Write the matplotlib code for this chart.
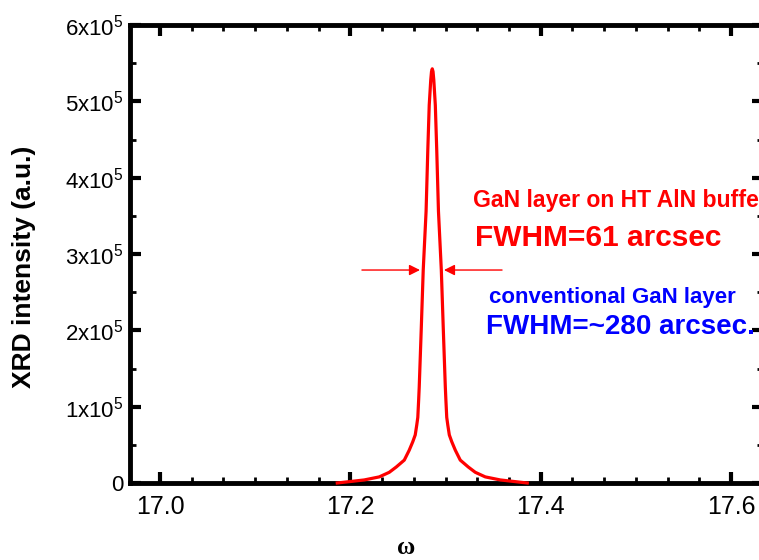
import matplotlib
matplotlib.use("Agg")
import matplotlib.pyplot as plt
from matplotlib.ticker import MultipleLocator, FuncFormatter

plt.rcParams["font.family"] = ["Liberation Sans", "DejaVu Sans"]

# rocking curve (omega in deg, intensity in 1e5 counts)
omega = [17.1863, 17.2146, 17.2304, 17.2409, 17.2483, 17.2567, 17.2619, 17.2656,
         17.2682, 17.2698, 17.2709, 17.2718, 17.2724, 17.2745, 17.2766, 17.2796,
         17.2814, 17.2829, 17.2845, 17.2853,
         17.2861,
         17.2869, 17.2877, 17.2893, 17.2908, 17.2926, 17.2956, 17.2977, 17.2998,
         17.3004, 17.3013, 17.3024, 17.3040, 17.3066, 17.3103, 17.3155, 17.3239,
         17.3313, 17.3418, 17.3576, 17.3859]
intensity = [0.00, 0.04, 0.08, 0.14, 0.21, 0.30, 0.43, 0.54,
             0.63, 0.76, 0.86, 1.09, 1.26, 2.01, 2.79, 3.56,
             4.36, 4.95, 5.28, 5.39,
             5.426,
             5.39, 5.28, 4.95, 4.36, 3.56, 2.79, 2.01, 1.26,
             1.09, 0.86, 0.76, 0.63, 0.54, 0.43, 0.30, 0.21,
             0.14, 0.08, 0.04, 0.00]

# FWHM arrows: (tail x, head x) at half maximum
arrow_y = 2.79
arrow_left = (17.2122, 17.2732)
arrow_right = (17.3594, 17.2984)

x_ticks = [17.0, 17.2, 17.4, 17.6]
y_ticks = [0, 1, 2, 3, 4, 5, 6]

W, H = 759, 560

fig = plt.figure(figsize=(W / 100, H / 100), dpi=100)
ax = fig.add_axes([130 / W, 1 - 483 / H, 633 / W, 458 / H])

ax.plot(omega, [v * 1e5 for v in intensity], color="#ff0000", lw=2.3,
        solid_joinstyle="round", zorder=3, clip_on=False)

for tail, head in (arrow_left, arrow_right):
    ax.annotate("", xy=(head, arrow_y * 1e5), xytext=(tail, arrow_y * 1e5),
                arrowprops=dict(arrowstyle="-|>", color="#ff0000", lw=1.0,
                                mutation_scale=16, shrinkA=0, shrinkB=0))

ax.set_xlim(16.9685, 17.6336)
ax.set_ylim(0, 6e5)
ax.set_xticks(x_ticks)
ax.set_yticks([v * 1e5 for v in y_ticks])
ax.xaxis.set_minor_locator(MultipleLocator(0.2 / 6))
ax.yaxis.set_minor_locator(MultipleLocator(0.5e5))
ax.xaxis.set_major_formatter(FuncFormatter(lambda v, p: f"{v:.1f}"))
ax.yaxis.set_major_formatter(FuncFormatter(
    lambda v, p: "0" if v == 0 else r"$\mathregular{%dx10^5}$" % round(v / 1e5)))

for s in ax.spines.values():
    s.set_linewidth(3.5)
ax.tick_params(which="both", direction="in", top=True, right=True)
ax.tick_params(which="major", length=8, width=3)
ax.tick_params(which="minor", length=4, width=2)
ax.tick_params(axis="x", labelsize=18, pad=9)
ax.tick_params(axis="y", labelsize=16, pad=5)


def put(px, py, s, color, size):
    # px, py: pixel position of the text baseline start, from top-left
    fig.text(px / W, 1 - py / H, s, color=color, fontsize=size,
             fontweight="bold", va="baseline", ha="left")


put(473, 207, "GaN layer on HT AlN buffer", "#ff0000", 16.6)
put(475, 246, "FWHM=61 arcsec", "#ff0000", 21.5)
put(489, 303, "conventional GaN layer", "#0000ff", 16)
put(486, 334, "FWHM=~280 arcsec.", "#0000ff", 20)

fig.text(24 / W, 1 - 267 / H, "XRD intensity (a.u.)", rotation=90,
         fontsize=19, fontweight="bold", ha="center", va="center")
fig.text(406 / W, 1 - 548 / H, "ω", family=["Liberation Serif", "DejaVu Serif"],
         fontsize=18, fontweight="bold", ha="center", va="center")

fig.savefig("out.png", dpi=100, facecolor="white")
